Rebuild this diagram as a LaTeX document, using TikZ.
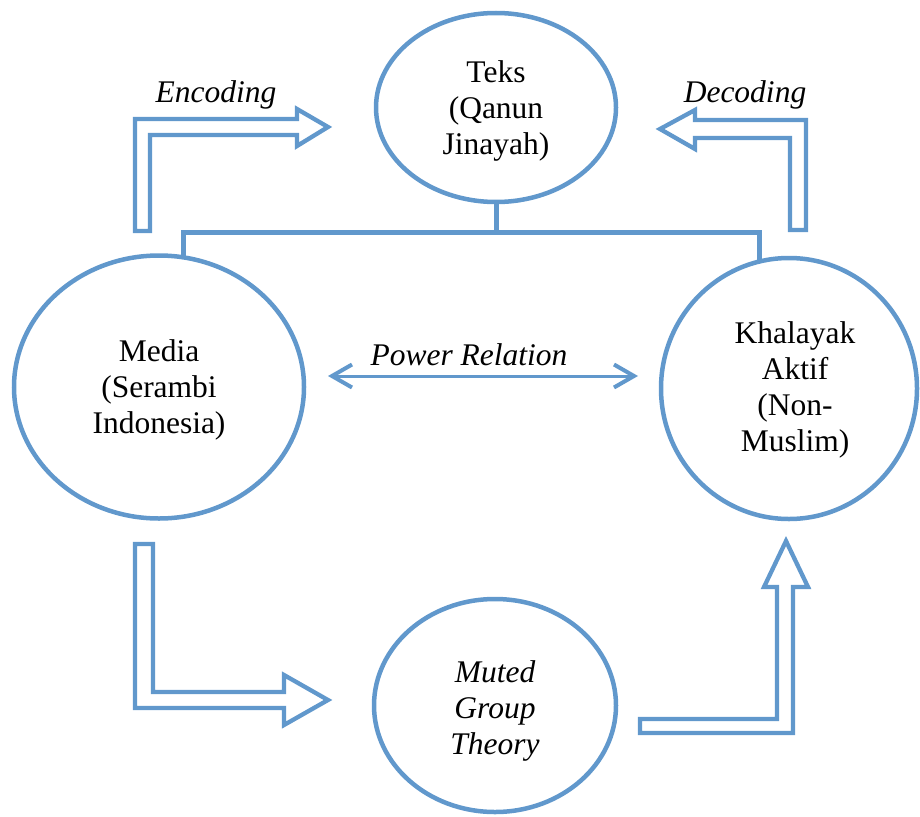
\documentclass[tikz,border=0pt]{standalone}
\usepackage{fontspec}
\setmainfont{Liberation Serif}
\usetikzlibrary{arrows.meta,shapes.geometric}
\definecolor{cblue}{RGB}{97,152,204}
\tikzset{
  ell/.style={draw=cblue, line width=4.5pt, ellipse, inner sep=0pt},
  txt/.style={align=center, font=\fontsize{31.5}{36}\selectfont, inner sep=0pt},
  lbl/.style={font=\fontsize{31.5}{36}\selectfont\itshape, inner sep=0pt, anchor=base},
  blockarrow/.style={draw=cblue, line width=4.3pt, fill=white, line join=miter},
  bracket/.style={draw=cblue, line width=5pt},
  pr/.style={draw=cblue, line width=3pt, {Straight Barb[length=20pt,width=23pt,line width=4pt]}-{Straight Barb[length=20pt,width=23pt,line width=4pt]}}
}
\begin{document}
\begin{tikzpicture}[x=1pt,y=-1pt]
\useasboundingbox (0,0) rectangle (920,816);
% ellipses
\node[ell, minimum width=240pt, minimum height=189pt] (teks) at (496,107.5) {};
\node[ell, minimum width=290pt, minimum height=263pt] (media) at (159,387) {};
\node[ell, minimum width=256pt, minimum height=261pt] (khal) at (789,388.5) {};
\node[ell, minimum width=242pt, minimum height=213pt] (muted) at (495,705.5) {};
% texts
\node[txt] (teksT) at (496,111) {Teks\\(Qanun\\Jinayah)};
\node[txt] (mediaT) at (159,390) {Media\\(Serambi\\Indonesia)};
\node[txt] (khalT) at (795,390) {Khalayak\\Aktif\\(Non-\\Muslim)};
\node[txt, font=\fontsize{31.5}{36}\selectfont\itshape] (mutedT) at (495,711) {Muted\\Group\\Theory};
% bracket
\coordinate (tb) at (496,232);
\coordinate (bl) at (183,232);
\coordinate (br) at (759,232);
\coordinate (ble) at (183,257);
\coordinate (bre) at (759,262);
\draw[bracket] (teks.south) -- (tb);
\draw[bracket] (ble) -- (bl) -- (br) -- (bre);
% block arrows
\draw[blockarrow] (135,231) -- (135,119) -- (297,119) -- (297,109) -- (328,127) -- (297,146) -- (297,135) -- (150,135) -- (150,231) -- cycle;
\draw[blockarrow] (806,230) -- (806,120) -- (695,120) -- (695,110) -- (660,129) -- (695,149) -- (695,138) -- (790,138) -- (790,230) -- cycle;
\draw[blockarrow] (135,544) -- (153,544) -- (153,692) -- (284,692) -- (284,675) -- (328,700) -- (284,725) -- (284,708) -- (135,708) -- cycle;
\draw[blockarrow] (640,733) -- (793,733) -- (793,587) -- (808,587) -- (786,541) -- (764,587) -- (777,587) -- (777,719) -- (640,719) -- cycle;
% labels
\node[lbl] (enc) at (216,102) {Encoding};
\node[lbl] (dec) at (745,102) {Decoding};
% power relation
\coordinate (prl) at (328,376);
\coordinate (prr) at (638,376);
\draw[pr] (prl) -- (prr);
\node[lbl] (prlab) at (469,365) {Power Relation};
\end{tikzpicture}
\end{document}
